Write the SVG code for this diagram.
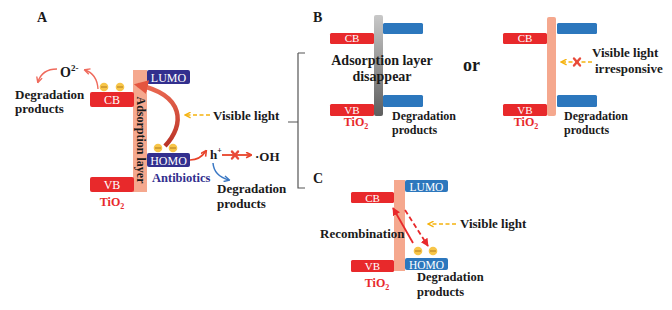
<svg xmlns="http://www.w3.org/2000/svg" width="672" height="310" viewBox="0 0 672 310">
<style>
.t{font-family:"Liberation Serif","Times New Roman",serif;font-weight:700;fill:#1a1a1a}
.bl{font-family:"Liberation Serif","Times New Roman",serif;fill:#fff;text-anchor:middle}
.red{fill:#e8292b}
.navy{fill:#322f8e}
.blue{fill:#2c77bd}
.bar{fill:#f5a88e}
.ti{font-family:"Liberation Serif","Times New Roman",serif;font-weight:700;fill:#e8292b;text-anchor:middle}
.yd{stroke:#f5b30f;stroke-width:1.6;stroke-dasharray:4 2.5;fill:none}
.x{stroke:#e84a3a;stroke-width:2.4;stroke-linecap:round}
</style>
<defs>
<marker id="chevY" viewBox="0 0 10 10" refX="9" refY="5" markerWidth="7" markerHeight="7" orient="auto" markerUnits="userSpaceOnUse"><polyline points="1,1 9,5 1,9" fill="none" stroke="#f5b30f" stroke-width="2"/></marker>
<marker id="arS" viewBox="0 0 10 10" refX="8" refY="5" markerWidth="7" markerHeight="7" orient="auto" markerUnits="userSpaceOnUse"><polyline points="1,1 9,5 1,9" fill="none" stroke="#ef6a5c" stroke-width="2"/></marker>
<marker id="arR" viewBox="0 0 10 10" refX="8" refY="5" markerWidth="7" markerHeight="7" orient="auto" markerUnits="userSpaceOnUse"><polyline points="1,1 9,5 1,9" fill="none" stroke="#e8432a" stroke-width="2.2"/></marker>
<marker id="arB" viewBox="0 0 10 10" refX="8" refY="5" markerWidth="7" markerHeight="7" orient="auto" markerUnits="userSpaceOnUse"><polyline points="1,1 9,5 1,9" fill="none" stroke="#3a78c4" stroke-width="2"/></marker>
<marker id="triR" viewBox="0 0 10 10" refX="9" refY="5" markerWidth="8" markerHeight="8" orient="auto" markerUnits="userSpaceOnUse"><path d="M0,0 L10,5 L0,10 Z" fill="#e8292b"/></marker>
<marker id="bigR" viewBox="0 0 10 10" refX="7" refY="5" markerWidth="14" markerHeight="14" orient="auto" markerUnits="userSpaceOnUse"><path d="M0,0 L10,5 L0,10 Z" fill="#e4553f"/></marker>
<linearGradient id="gArc" x1="0" y1="1" x2="0" y2="0"><stop offset="0" stop-color="#b93226"/><stop offset="1" stop-color="#ec6a52"/></linearGradient>
<linearGradient id="gGray" x1="0" y1="0" x2="0" y2="1"><stop offset="0" stop-color="#c8c8c8"/><stop offset="1" stop-color="#5e5e5e"/></linearGradient>
<g id="coin"><circle r="4.3" fill="#f7c548"/><line x1="-3" y1="0" x2="3" y2="0" stroke="#b07a1e" stroke-width="1"/></g>
</defs>

<!-- Panel A -->
<g id="panelA">
<text class="t" x="37" y="22" font-size="14">A</text>
<g id="A-bar"><rect class="bar" x="133" y="70" width="14" height="122"/>
<text class="t" font-size="12" transform="translate(137,140) rotate(90)" text-anchor="middle">Adsorption layer</text></g>
<g id="A-CB"><rect class="red" x="90" y="92" width="44" height="15" rx="2"/><text class="bl" x="112" y="104" font-size="12">CB</text></g>
<g id="A-VB"><rect class="red" x="90" y="177" width="44" height="15" rx="2"/><text class="bl" x="112" y="189" font-size="12">VB</text></g>
<g id="A-LUMO"><rect class="navy" x="147" y="70" width="43" height="14" rx="2"/><text class="bl" x="168.5" y="81.5" font-size="12">LUMO</text></g>
<g id="A-HOMO"><rect class="navy" x="147" y="153" width="43" height="14" rx="2"/><text class="bl" x="168.5" y="164.5" font-size="12">HOMO</text></g>
<use href="#coin" x="104" y="87"/><use href="#coin" x="120" y="87"/>
<use href="#coin" x="158" y="148"/><use href="#coin" x="173" y="148"/>
<text class="ti" x="112" y="206" font-size="12">TiO<tspan font-size="8" dy="3">2</tspan></text>
<text class="t" x="152" y="182" font-size="12.5" style="fill:#322f8e">Antibiotics</text>
<text class="t" x="60" y="77" font-size="14">O<tspan font-size="9" dy="-6">2-</tspan></text>
<text class="t" x="15" y="99" font-size="13">Degradation</text>
<text class="t" x="15" y="113" font-size="13">products</text>
<text class="t" x="213" y="120" font-size="13">Visible light</text>
<text class="t" x="210" y="159" font-size="13">h<tspan font-size="8" dy="-6">+</tspan></text>
<text class="t" x="255" y="161" font-size="13">·OH</text>
<text class="t" x="217" y="193" font-size="13">Degradation</text>
<text class="t" x="217" y="208" font-size="13">products</text>
</g>

<!-- Panel B -->
<g id="panelB">
<text class="t" x="313" y="22" font-size="14">B</text>
<g id="B1-CB"><rect class="red" x="330" y="33" width="44" height="11" rx="1.5"/><text class="bl" x="352" y="42" font-size="11">CB</text></g>
<g id="B1-VB"><rect class="red" x="330" y="104" width="44" height="12" rx="1.5"/><text class="bl" x="352" y="113.5" font-size="11">VB</text></g>
<rect x="374" y="15" width="9" height="101" rx="2" fill="url(#gGray)"/>
<rect class="blue" x="383" y="23" width="40" height="11" rx="1.5"/>
<rect class="blue" x="383" y="95" width="40" height="12" rx="1.5"/>
<text class="t" x="382" y="65" font-size="14" text-anchor="middle">Adsorption layer</text>
<text class="t" x="382" y="81" font-size="14" text-anchor="middle">disappear</text>
<text class="ti" x="356" y="126" font-size="12">TiO<tspan font-size="8" dy="3">2</tspan></text>
<text class="t" x="392" y="120" font-size="12">Degradation</text>
<text class="t" x="392" y="134" font-size="12">products</text>
<text class="t" x="463" y="71" font-size="18">or</text>

<g id="B2-CB"><rect class="red" x="503" y="33" width="44" height="11" rx="1.5"/><text class="bl" x="525" y="42" font-size="11">CB</text></g>
<g id="B2-VB"><rect class="red" x="503" y="104" width="44" height="12" rx="1.5"/><text class="bl" x="525" y="113.5" font-size="11">VB</text></g>
<rect class="bar" x="547" y="17" width="9" height="99" rx="2"/>
<rect class="blue" x="557" y="23" width="40" height="11" rx="1.5"/>
<rect class="blue" x="557" y="95" width="40" height="12" rx="1.5"/>
<text class="t" x="592" y="57" font-size="13">Visible light</text>
<text class="t" x="595" y="73" font-size="13">irresponsive</text>
<text class="ti" x="526" y="126" font-size="12">TiO<tspan font-size="8" dy="3">2</tspan></text>
<text class="t" x="564" y="120" font-size="12">Degradation</text>
<text class="t" x="564" y="134" font-size="12">products</text>
</g>

<!-- Panel C -->
<g id="panelC">
<text class="t" x="313" y="183" font-size="14">C</text>
<rect class="bar" x="394" y="180" width="11" height="91"/>
<g id="C-LUMO"><rect class="blue" x="405" y="180" width="43" height="12" rx="2"/><text class="bl" x="426.5" y="190.5" font-size="11.5">LUMO</text></g>
<g id="C-HOMO"><rect class="blue" x="405" y="258" width="43" height="12" rx="2"/><text class="bl" x="426.5" y="268.5" font-size="11.5">HOMO</text></g>
<g id="C-CB"><rect class="red" x="351" y="192" width="43" height="11" rx="1.5"/><text class="bl" x="372.5" y="201.5" font-size="11">CB</text></g>
<g id="C-VB"><rect class="red" x="351" y="260" width="43" height="12" rx="1.5"/><text class="bl" x="372.5" y="270" font-size="11">VB</text></g>
<use href="#coin" x="418" y="251"/><use href="#coin" x="433" y="251"/>
<text class="t" x="320" y="238" font-size="13">Recombination</text>
<text class="t" x="460" y="228" font-size="13">Visible light</text>
<text class="ti" x="377" y="287" font-size="12">TiO<tspan font-size="8" dy="3">2</tspan></text>
<text class="t" x="417" y="281" font-size="12.5">Degradation</text>
<text class="t" x="417" y="296" font-size="12.5">products</text>
</g>

<!-- Connectors -->
<g id="connectors">
<path d="M165,146 C185,125 185,95 138,85" fill="none" stroke="url(#gArc)" stroke-width="4.5" marker-end="url(#bigR)"/>
<path d="M57,69 Q42,69 38,82" fill="none" stroke="#ef6a5c" stroke-width="1.4" marker-end="url(#arS)"/>
<path d="M98,89 Q97,74 85,70" fill="none" stroke="#ef6a5c" stroke-width="1.4" marker-end="url(#arS)"/>
<line class="yd" x1="210" y1="115" x2="185" y2="115" marker-end="url(#chevY)"/>
<path d="M190,160 Q200,160 206,151" fill="none" stroke="#e8432a" stroke-width="1.6" marker-end="url(#arR)"/>
<line x1="222" y1="155" x2="251" y2="155" stroke="#e8432a" stroke-width="1.8" marker-end="url(#arR)"/>
<line class="x" x1="232" y1="151.5" x2="238" y2="158.5"/><line class="x" x1="238" y1="151.5" x2="232" y2="158.5"/>
<path d="M213,163 Q214,176 229,180" fill="none" stroke="#3a78c4" stroke-width="1.5" marker-end="url(#arB)"/>
<path d="M298,53 H305 M298,53 V188 H305 M288,122 H298" fill="none" stroke="#555" stroke-width="1.2"/>
<line class="yd" x1="592" y1="62" x2="561" y2="62" marker-end="url(#chevY)"/>
<line class="x" x1="574" y1="58.5" x2="580" y2="65.5"/><line class="x" x1="580" y1="58.5" x2="574" y2="65.5"/>
<line x1="413" y1="243" x2="393" y2="208" stroke="#e8292b" stroke-width="1.8" marker-end="url(#triR)"/>
<line x1="405" y1="210" x2="428" y2="246" stroke="#e8292b" stroke-width="1.8" stroke-dasharray="5 3" marker-end="url(#triR)"/>
<line class="yd" x1="456" y1="224" x2="428" y2="224" marker-end="url(#chevY)"/>
</g>
</svg>
